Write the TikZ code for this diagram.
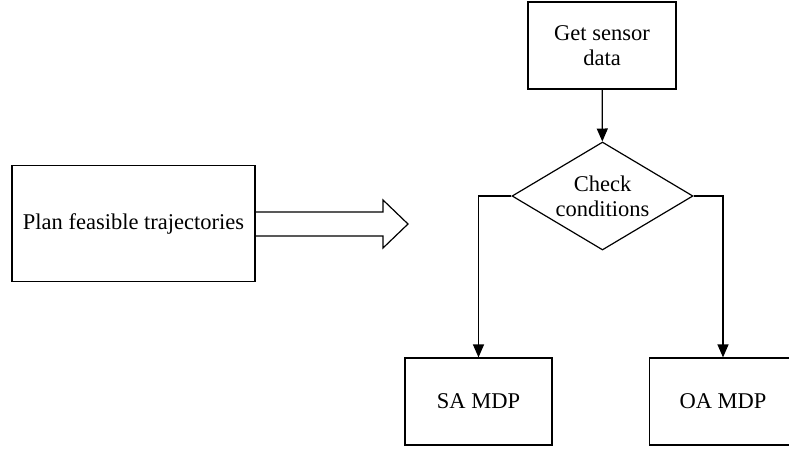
\documentclass[tikz,border=0pt]{standalone}
\usepackage{fontspec}
\setmainfont{Liberation Serif}
\usetikzlibrary{shapes.geometric,arrows.meta}

\begin{document}
\begin{tikzpicture}[x=1pt, y=-1pt, line width=1.2pt,
    every node/.style={draw, rectangle, align=center,
      font=\fontsize{22.5}{25}\selectfont},
    -{Triangle[length=13pt,width=11pt]}]
    \useasboundingbox (0,0) rectangle (789,450);
    \node[minimum width=243pt, minimum height=116pt] (plan) at (133.5,223.5) {Plan feasible trajectories};
    \node[minimum width=148pt, minimum height=87pt] (sensor) at (602,45.5) {Get sensor\\data};
    \node[diamond, aspect=1.67, inner sep=0pt, minimum width=181pt, minimum height=108pt] (check) at (602.5,196) {Check\\conditions};
    \node[minimum width=147pt, minimum height=87pt] (sa) at (478.5,401.5) {SA MDP};
    \node[minimum width=147pt, minimum height=87pt] (oa) at (723,401.5) {OA MDP};

    \draw (sensor) -- (check);
    \draw (check.west) -| (sa);
    \draw (check.east) -| (oa);

    % hollow arrow out of the planning box
    \draw[-] (plan.east |- 0,212) -- (383,212) -- (383,200) -- (408,224)
      -- (383,248) -- (383,236) -- (plan.east |- 0,236);
\end{tikzpicture}
\end{document}
